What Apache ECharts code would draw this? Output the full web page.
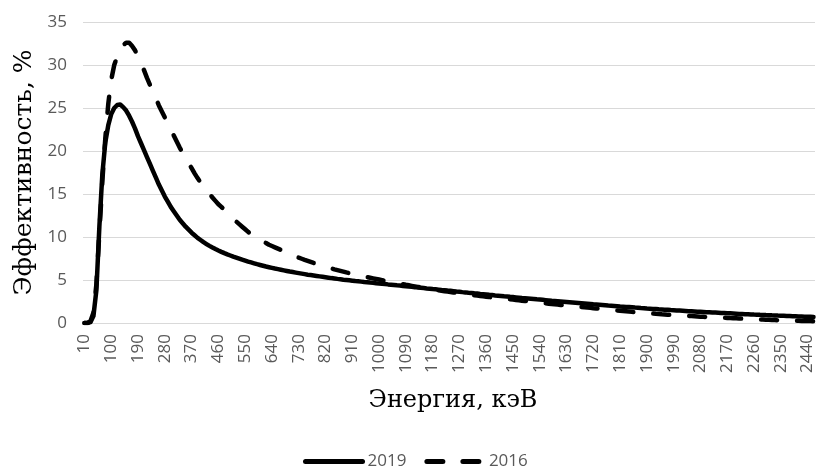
<!DOCTYPE html>
<html>
<head>
<meta charset="utf-8">
<script src="https://cdn.jsdelivr.net/npm/echarts@6/dist/echarts.min.js"></script>
<style>
html,body{margin:0;padding:0;background:#fff;}
#chart{width:817px;height:469px;}
</style>
</head>
<body>
<div id="chart"></div>
<script>
// Energy categories, keV (10 .. 2460, step 10)
const energies = [];
for (let e = 10; e <= 2460; e += 10) energies.push(String(e));

const seriesNames = ['2019', '2016'];
const yTicks = [0, 5, 10, 15, 20, 25, 30, 35];

// 2019 efficiency, %
const eff2019 = [
0,0,0.1,0.8,3.8,11.2,17.3,21.0,23.0,24.3,
25.0,25.35,25.4,25.1,24.7,24.1,23.4,22.6,21.7,20.9,
20.1,19.3,18.5,17.7,16.9,16.1,15.4,14.7,14.1,13.5,
13.0,12.5,12.0,11.6,11.2,10.85,10.5,10.2,9.9,9.65,
9.4,9.18,8.97,8.78,8.6,8.43,8.27,8.12,7.98,7.85,
7.72,7.6,7.48,7.36,7.25,7.14,7.04,6.94,6.84,6.75,
6.66,6.57,6.49,6.41,6.33,6.26,6.19,6.12,6.05,5.98,
5.92,5.86,5.8,5.74,5.68,5.62,5.57,5.52,5.47,5.42,
5.37,5.32,5.27,5.22,5.18,5.13,5.09,5.04,5.0,4.96,
4.92,4.88,4.85,4.81,4.77,4.74,4.7,4.67,4.63,4.6,
4.56,4.53,4.49,4.46,4.42,4.38,4.35,4.31,4.28,4.24,
4.2,4.17,4.13,4.1,4.06,4.02,3.99,3.95,3.92,3.88,
3.84,3.81,3.77,3.74,3.7,3.66,3.63,3.59,3.56,3.52,
3.49,3.45,3.42,3.38,3.35,3.32,3.28,3.25,3.21,3.18,
3.15,3.11,3.08,3.04,3.01,2.98,2.95,2.91,2.88,2.85,
2.82,2.79,2.75,2.72,2.69,2.66,2.63,2.59,2.56,2.53,
2.5,2.47,2.44,2.41,2.38,2.35,2.32,2.29,2.26,2.23,
2.2,2.17,2.15,2.12,2.09,2.06,2.03,2.01,1.98,1.95,
1.92,1.9,1.87,1.85,1.82,1.79,1.77,1.74,1.72,1.69,
1.67,1.64,1.62,1.59,1.57,1.55,1.53,1.5,1.48,1.46,
1.44,1.42,1.4,1.38,1.36,1.34,1.32,1.3,1.28,1.26,
1.24,1.22,1.21,1.19,1.17,1.15,1.13,1.12,1.1,1.08,
1.06,1.05,1.03,1.02,1.0,0.98,0.97,0.95,0.94,0.92,
0.91,0.89,0.88,0.86,0.85,0.84,0.82,0.81,0.79,0.78,
0.77,0.76,0.74,0.73,0.72,0.71
];

// 2016 efficiency, %
const eff2016 = [
0,0,0.2,1.2,4.5,10.5,16.5,21.5,25.5,28.3,
30.0,31.0,31.8,32.3,32.6,32.6,32.2,31.7,31.0,30.2,
29.4,28.5,27.7,26.9,26.1,25.3,24.6,23.9,23.2,22.5,
21.8,21.1,20.4,19.8,19.2,18.6,18.0,17.4,16.85,16.35,
15.9,15.45,15.0,14.6,14.2,13.8,13.5,13.15,12.8,12.45,
12.1,11.8,11.5,11.2,10.9,10.6,10.35,10.1,9.9,9.7,
9.5,9.3,9.1,8.95,8.8,8.65,8.5,8.35,8.2,8.05,
7.9,7.75,7.6,7.47,7.34,7.22,7.1,6.98,6.87,6.76,
6.65,6.54,6.44,6.34,6.24,6.15,6.06,5.97,5.88,5.8,
5.72,5.64,5.56,5.48,5.4,5.33,5.26,5.19,5.12,5.05,
4.98,4.91,4.84,4.77,4.7,4.64,4.57,4.51,4.44,4.38,
4.32,4.26,4.2,4.14,4.08,4.02,3.97,3.91,3.86,3.8,
3.75,3.7,3.65,3.6,3.55,3.5,3.46,3.41,3.37,3.32,
3.28,3.23,3.19,3.14,3.1,3.06,3.02,2.98,2.94,2.9,
2.86,2.83,2.79,2.76,2.72,2.68,2.64,2.6,2.56,2.52,
2.48,2.44,2.41,2.37,2.33,2.29,2.25,2.22,2.18,2.14,
2.1,2.07,2.03,2.0,1.96,1.93,1.89,1.86,1.82,1.79,
1.76,1.72,1.69,1.65,1.62,1.59,1.55,1.52,1.48,1.45,
1.42,1.39,1.36,1.33,1.3,1.27,1.24,1.21,1.18,1.15,
1.12,1.1,1.07,1.05,1.02,1.0,0.97,0.95,0.92,0.9,
0.88,0.86,0.84,0.82,0.8,0.78,0.76,0.74,0.72,0.7,
0.68,0.67,0.65,0.64,0.62,0.6,0.59,0.57,0.56,0.54,
0.52,0.51,0.49,0.48,0.46,0.44,0.43,0.41,0.4,0.38,
0.37,0.35,0.34,0.32,0.31,0.3,0.29,0.28,0.27,0.26,
0.25,0.24,0.23,0.22,0.22,0.21
];

const chart = echarts.init(document.getElementById('chart'), null, {renderer: 'canvas'});
const labelFont = '"Open Sans", "Noto Sans", sans-serif';
const serifFont = '"DejaVu Serif", "Liberation Serif", serif';
const dashPattern = [16, 20];

chart.setOption({
  animation: false,
  backgroundColor: '#ffffff',
  grid: {left: 83, right: 2, top: 22, bottom: 146, containLabel: false},
  legend: {
    data: seriesNames,
    left: 298,
    top: 448,
    itemWidth: 57,
    itemHeight: 14,
    itemGap: 18,
    itemStyle: {opacity: 0},
    lineStyle: {width: 5, cap: 'round'},
    textStyle: {color: '#595959', fontSize: 17, fontFamily: labelFont}
  },
  xAxis: {
    type: 'category',
    data: energies,
    boundaryGap: true,
    name: 'Энергия, кэВ',
    nameLocation: 'middle',
    nameGap: 66,
    nameTextStyle: {fontFamily: serifFont, fontSize: 24, color: '#000000', padding: [0, 0, 0, 8]},
    axisLine: {show: true, lineStyle: {color: '#d9d9d9', width: 1}},
    axisTick: {show: false},
    axisLabel: {
      interval: 8,
      rotate: 90,
      margin: 11,
      color: '#595959',
      fontSize: 17,
      fontFamily: labelFont
    },
    splitLine: {show: false}
  },
  yAxis: {
    type: 'value',
    min: yTicks[0],
    max: yTicks[yTicks.length - 1],
    interval: 5,
    name: 'Эффективность, %',
    nameLocation: 'middle',
    nameRotate: 90,
    nameGap: 44,
    nameTextStyle: {fontFamily: serifFont, fontSize: 25, color: '#000000'},
    axisLine: {show: false},
    axisTick: {show: false},
    axisLabel: {color: '#595959', fontSize: 17, fontFamily: labelFont, margin: 16},
    splitLine: {show: true, lineStyle: {color: '#d9d9d9', width: 1}}
  },
  series: [
    {
      name: seriesNames[0],
      type: 'line',
      data: eff2019,
      symbol: 'none',
      smooth: false,
      lineStyle: {color: '#000000', width: 4.5, type: 'solid', cap: 'round', join: 'round'},
      itemStyle: {color: '#000000'}
    },
    {
      name: seriesNames[1],
      type: 'line',
      data: eff2016,
      symbol: 'none',
      smooth: false,
      lineStyle: {color: '#000000', width: 4.5, type: dashPattern, cap: 'round', join: 'round'},
      itemStyle: {color: '#000000'}
    }
  ]
});
</script>
</body>
</html>
